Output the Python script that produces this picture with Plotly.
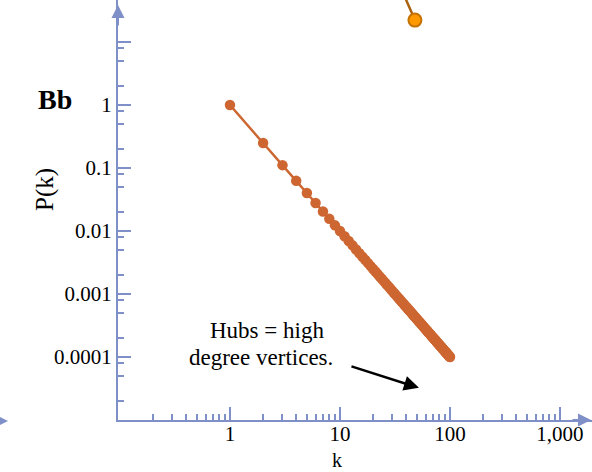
import plotly.graph_objects as go
import math

# ---- data ----
degree_k = list(range(1, 101))
prob_pk = [
    1, 0.25, 0.111, 0.0625, 0.04, 0.0278, 0.0204, 0.0156, 0.0123, 0.01,
    0.00826, 0.00694, 0.00592, 0.0051, 0.00444, 0.00391, 0.00346, 0.00309, 0.00277, 0.0025,
    0.00227, 0.00207, 0.00189, 0.00174, 0.0016, 0.00148, 0.00137, 0.00128, 0.00119, 0.00111,
    0.00104, 0.000977, 0.000918, 0.000865, 0.000816, 0.000772, 0.00073, 0.000693, 0.000657, 0.000625,
    0.000595, 0.000567, 0.000541, 0.000517, 0.000494, 0.000473, 0.000453, 0.000434, 0.000416, 0.0004,
    0.000384, 0.00037, 0.000356, 0.000343, 0.000331, 0.000319, 0.000308, 0.000297, 0.000287, 0.000278,
    0.000269, 0.00026, 0.000252, 0.000244, 0.000237, 0.00023, 0.000223, 0.000216, 0.00021, 0.000204,
    0.000198, 0.000193, 0.000188, 0.000183, 0.000178, 0.000173, 0.000169, 0.000164, 0.00016, 0.000156,
    0.000152, 0.000149, 0.000145, 0.000142, 0.000138, 0.000135, 0.000132, 0.000129, 0.000126, 0.000123,
    0.000121, 0.000118, 0.000116, 0.000113, 0.000111, 0.000109, 0.000106, 0.000104, 0.000102, 0.0001,
]

# point of a neighbouring panel that pokes into the top of this one
other_k = [33, 48]
other_p = [100, 22.3]

x_tick_vals = [1, 10, 100, 1000]
x_tick_text = ["1", "10", "100", "1,000"]
y_tick_vals = [10, 1, 0.1, 0.01, 0.001, 0.0001]
y_tick_text = ["", "1", "0.1", "0.01", "0.001", "0.0001"]
x_minor_mult = [2, 3, 4, 5, 6, 7, 8, 9]
y_minor_mult = [2, 5, 8]

x_minor = [m * d for d in [0.1, 1, 10, 100, 1000] for m in x_minor_mult]
y_minor = [m * d for d in [1e-5, 1e-4, 1e-3, 1e-2, 1e-1, 1] for m in y_minor_mult]

AXIS = "#7f8fc8"
SERIES = "#cd6631"
FONT = "Liberation Serif"
TICK_SIZE = 21

fig = go.Figure()
fig.add_trace(go.Scatter(
    x=degree_k, y=prob_pk, mode="lines+markers",
    line=dict(color=SERIES, width=2.5),
    marker=dict(color=SERIES, size=10.5),
    cliponaxis=False, showlegend=False,
))
fig.add_trace(go.Scatter(
    x=other_k, y=other_p, mode="lines",
    line=dict(color="#a8620f", width=2.5),
    showlegend=False,
))
fig.add_trace(go.Scatter(
    x=other_k[1:], y=other_p[1:], mode="markers",
    marker=dict(color="#ff9900", size=13, opacity=1,
                line=dict(color="#c47300", width=2)),
    showlegend=False,
))

fig.update_layout(
    width=592, height=472,
    margin=dict(l=118, r=0, t=0, b=52),
    paper_bgcolor="white", plot_bgcolor="white",
    font=dict(family=FONT, size=TICK_SIZE, color="black"),
    xaxis=dict(
        type="log", range=[-1.018, 3.291], automargin=False,
        showgrid=False, zeroline=False,
        showline=True, linecolor=AXIS, linewidth=2,
        ticks="inside", ticklen=13, tickwidth=2, tickcolor=AXIS,
        tickvals=x_tick_vals, ticktext=x_tick_text,
        ticklabelstandoff=-6,
        minor=dict(tickvals=x_minor, ticks="inside", ticklen=6, tickwidth=2,
                   tickcolor=AXIS, showgrid=False),
        tickfont=dict(family=FONT, size=TICK_SIZE),
    ),
    yaxis=dict(
        type="log", range=[-5.0, 1.667], automargin=False,
        showgrid=False, zeroline=False,
        showline=True, linecolor=AXIS, linewidth=2,
        ticks="inside", ticklen=13, tickwidth=2, tickcolor=AXIS,
        tickvals=y_tick_vals, ticktext=y_tick_text,
        minor=dict(tickvals=y_minor, ticks="inside", ticklen=6, tickwidth=2,
                   tickcolor=AXIS, showgrid=False),
        tickfont=dict(family=FONT, size=TICK_SIZE),
    ),
)

def px_x(px):
    return (px - 118) / 474

def px_y(py):
    return (420 - py) / 420

ann = []
# axis arrows
ann.append(dict(xref="paper", yref="paper", x=0, y=px_y(5), ax=0, ay=22,
                showarrow=True, arrowhead=2, arrowsize=1.3, arrowwidth=2,
                arrowcolor=AXIS, text=""))
ann.append(dict(xref="paper", yref="paper", x=1.002, y=0, ax=-22, ay=0,
                showarrow=True, arrowhead=2, arrowsize=1.3, arrowwidth=2,
                arrowcolor=AXIS, text=""))
ann.append(dict(xref="paper", yref="paper", x=px_x(8), y=px_y(421), ax=-16, ay=0,
                showarrow=True, arrowhead=2, arrowsize=1.3, arrowwidth=2,
                arrowcolor=AXIS, text=""))
# labels
ann.append(dict(xref="paper", yref="paper", x=px_x(55), y=px_y(99),
                xanchor="center", yanchor="middle",
                text="<b>Bb</b>", showarrow=False, font=dict(family=FONT, size=28)))
ann.append(dict(xref="paper", yref="paper", x=px_x(45), y=px_y(190),
                xanchor="center", yanchor="middle",
                text="P(k)", textangle=-90, showarrow=False, font=dict(family=FONT, size=25)))
ann.append(dict(xref="paper", yref="paper", x=px_x(337), y=px_y(460),
                xanchor="center", yanchor="middle", borderpad=0,
                text="k", showarrow=False, font=dict(family=FONT, size=20)))
ann.append(dict(xref="x", yref="y", x=math.log10(2.15), y=-(330 - 105) / 63,
                xanchor="center", yanchor="middle",
                text="Hubs = high", showarrow=False,
                font=dict(family=FONT, size=23)))
ann.append(dict(xref="x", yref="y", x=math.log10(1.93), y=-(357 - 105) / 63,
                xanchor="center", yanchor="middle",
                text="degree vertices.", showarrow=False,
                font=dict(family=FONT, size=23)))
ann.append(dict(xref="x", yref="y", x=1.718, y=-4.49, ax=-69, ay=-22,
                showarrow=True, arrowhead=2, arrowsize=1.2, arrowwidth=2.5,
                arrowcolor="black", text=""))
fig.update_layout(annotations=ann)

fig.write_html("out.html")
